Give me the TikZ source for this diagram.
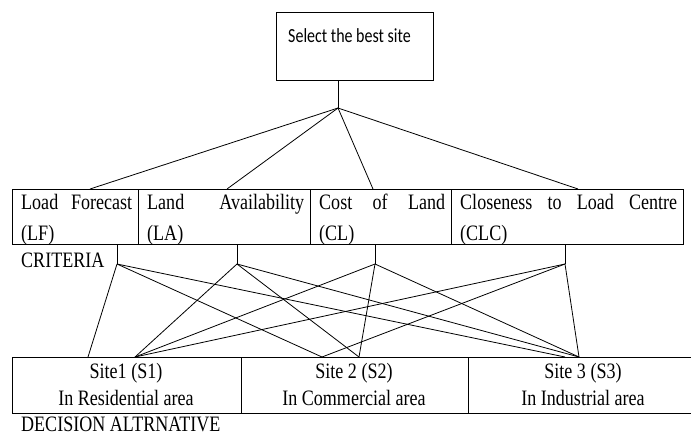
\documentclass[tikz,border=0pt]{standalone}
\usepackage{fontspec}
\setmainfont{Liberation Serif}[FakeStretch=0.82]
\newfontfamily\calib{Carlito}[FakeStretch=0.8]
\begin{document}
\begin{tikzpicture}[x=1pt,y=-1pt,
  box/.style={draw, line width=1.1pt, inner sep=0pt, anchor=north west},
  link/.style={line width=0.8pt},
  txt/.style={inner sep=0pt, font=\fontsize{22}{26}\selectfont},
]
\useasboundingbox (0,0) rectangle (691,437);
% goal
\node[box, minimum width=157pt, minimum height=68pt] (goal) at (276,12) {};
\node[inner sep=0pt, anchor=base west, font=\calib\fontsize{20}{24}\selectfont] (goaltxt) at (288,42) {Select the best site};
% criteria
\node[box, minimum width=126pt, minimum height=55pt] (lf) at (12,189) {};
\node[box, minimum width=172pt, minimum height=55pt] (la) at (138,189) {};
\node[box, minimum width=141pt, minimum height=55pt] (cl) at (310,189) {};
\node[box, minimum width=232pt, minimum height=55pt] (clc) at (451,189) {};
\node[txt, anchor=base west] (lft1) at (21,209) {\makebox[111pt][s]{Load Forecast}};
\node[txt, anchor=base west] (lft2) at (21,240) {(LF)};
\node[txt, anchor=base west] (lat1) at (147,209) {\makebox[157pt][s]{Land Availability}};
\node[txt, anchor=base west] (lat2) at (147,240) {(LA)};
\node[txt, anchor=base west] (clt1) at (319,209) {\makebox[126pt][s]{Cost of Land}};
\node[txt, anchor=base west] (clt2) at (319,240) {(CL)};
\node[txt, anchor=base west] (clct1) at (460,209) {\makebox[217pt][s]{Closeness to Load Centre}};
\node[txt, anchor=base west] (clct2) at (460,240) {(CLC)};
\node[txt, anchor=base west] (crit) at (21,267) {CRITERIA};
% alternatives
\node[box, minimum width=229pt, minimum height=56pt] (s1) at (12,357) {};
\node[box, minimum width=227pt, minimum height=56pt] (s2) at (241,357) {};
\node[box, minimum width=232pt, minimum height=56pt] (s3) at (468,357) {};
\node[txt, anchor=base] (s1t1) at (126,378) {Site1 (S1)};
\node[txt, anchor=base] (s1t2) at (126,405) {In Residential area};
\node[txt, anchor=base] (s2t1) at (354,378) {Site 2 (S2)};
\node[txt, anchor=base] (s2t2) at (354,405) {In Commercial area};
\node[txt, anchor=base] (s3t1) at (583,378) {Site 3 (S3)};
\node[txt, anchor=base] (s3t2) at (583,405) {In Industrial area};
\node[txt, anchor=base west] (dec) at (21,431) {DECISION ALTRNATIVE};
% coordinates
\coordinate (hub) at (338,108);
\coordinate (lfin) at (90,189);
\coordinate (lain) at (227,189);
\coordinate (clin) at (373,189);
\coordinate (clcin) at (578,189);
\coordinate (lfh) at (117,264);
\coordinate (lah) at (237,264);
\coordinate (clh) at (375,264);
\coordinate (clch) at (565,264);
\coordinate (s1a) at (88,357);
\coordinate (s1b) at (135,357);
\coordinate (s2a) at (322,357);
\coordinate (s2b) at (359,357);
\coordinate (s3a) at (565,357);
\coordinate (s3b) at (579,357);
% links
\draw[link] (hub |- goal.south) -- (hub);
\draw[link] (hub) -- (lfin);
\draw[link] (hub) -- (lain);
\draw[link] (hub) -- (clin);
\draw[link] (hub) -- (clcin);
\draw[link] (lfh |- lf.south) -- (lfh);
\draw[link] (lah |- la.south) -- (lah);
\draw[link] (clh |- cl.south) -- (clh);
\draw[link] (clch |- clc.south) -- (clch);
\draw[link] (lfh) -- (s1a);
\draw[link] (lfh) -- (s2a);
\draw[link] (lfh) -- (s3a);
\draw[link] (lah) -- (s1b);
\draw[link] (lah) -- (s2b);
\draw[link] (lah) -- (s3b);
\draw[link] (clh) -- (s1b);
\draw[link] (clh) -- (s2b);
\draw[link] (clh) -- (s3b);
\draw[link] (clch) -- (s1b);
\draw[link] (clch) -- (s2a);
\draw[link] (clch) -- (s3b);
\end{tikzpicture}
\end{document}
